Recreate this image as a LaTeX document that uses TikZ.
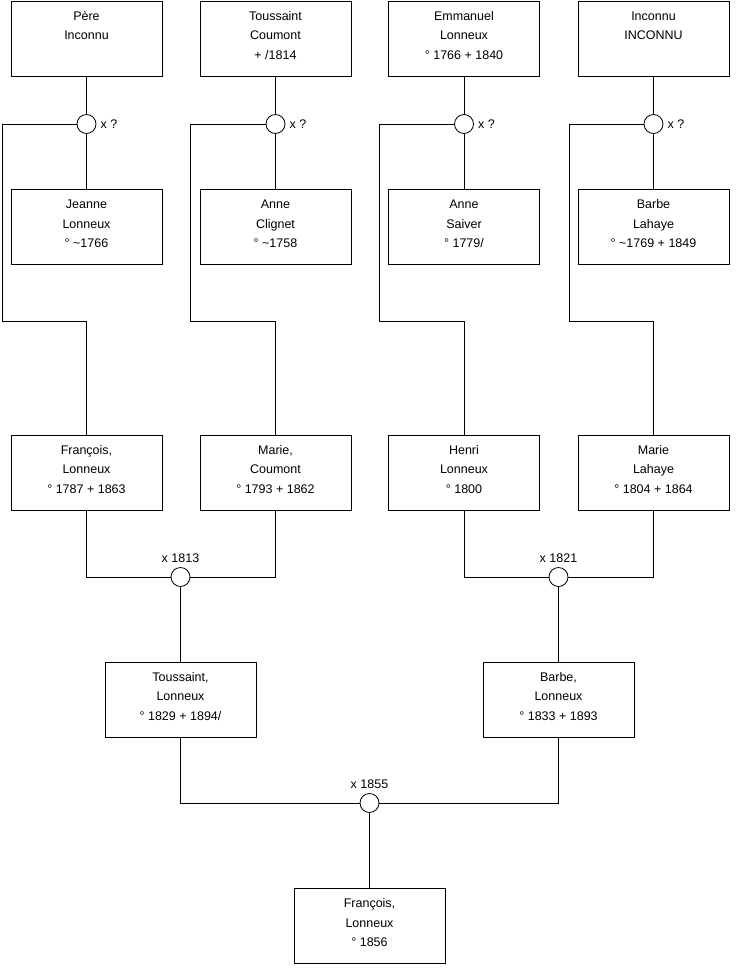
\documentclass[tikz,border=0pt]{standalone}
\usepackage{fontspec}
\setmainfont{Liberation Sans}
\newcommand\ls{\rule[-6.4pt]{0pt}{15.4pt}}
\tikzset{
  person/.style={draw=black, line width=0.8pt, minimum width=151pt, minimum height=75pt, inner sep=0pt, align=center,
    font=\fontsize{12.5}{19.5}\selectfont, fill=white},
  union/.style={draw=black, line width=0.8pt, circle, minimum size=19pt, inner sep=0pt, fill=white},
  wedlab/.style={font=\fontsize{12.5}{14}\selectfont, inner sep=0pt},
  link/.style={draw=black, line width=0.8pt}
}
\begin{document}
\begin{tikzpicture}[x=1pt,y=-1pt]
\useasboundingbox (0,0) rectangle (740,975);
% top row
\node[person] (a1) at (86.5,38.5) {\ls Père\\\ls Inconnu\\\ls};
\node[person] (a2) at (275.5,38.5) {\ls Toussaint\\\ls Coumont\\\ls + /1814};
\node[person] (a3) at (464,38.5) {\ls Emmanuel\\\ls Lonneux\\\ls ° 1766 + 1840};
\node[person] (a4) at (653.5,38.5) {\ls Inconnu\\\ls INCONNU\\\ls};
% circles
\node[union] (c1) at (86.5,124) {};
\node[union] (c2) at (275.5,124) {};
\node[union] (c3) at (464,124) {};
\node[union] (c4) at (653.5,124) {};
\foreach \i in {1,2,3,4}{\node[wedlab, anchor=west] (q\i) at ([xshift=4pt]c\i.east) {x ?};}
% second row
\node[person] (b1) at (86.5,227) {\ls Jeanne\\\ls Lonneux\\\ls ° \textasciitilde 1766};
\node[person] (b2) at (275.5,227) {\ls Anne\\\ls Clignet\\\ls ° \textasciitilde 1758};
\node[person] (b3) at (464,227) {\ls Anne\\\ls Saiver\\\ls ° 1779/};
\node[person] (b4) at (653.5,227) {\ls Barbe\\\ls Lahaye\\\ls ° \textasciitilde 1769 + 1849};
% third row
\node[person] (d1) at (86.5,472.5) {\ls François,\\\ls Lonneux\\\ls ° 1787 + 1863};
\node[person] (d2) at (275.5,472.5) {\ls Marie,\\\ls Coumont\\\ls ° 1793 + 1862};
\node[person] (d3) at (464,472.5) {\ls Henri\\\ls Lonneux\\\ls ° 1800};
\node[person] (d4) at (653.5,472.5) {\ls Marie\\\ls Lahaye\\\ls ° 1804 + 1864};
% marriages
\node[union] (m1) at (180.5,577) {};
\node[union] (m2) at (558.5,577) {};
\node[wedlab, anchor=base] (l1) at ([yshift=5pt]m1.north) {x 1813};
\node[wedlab, anchor=base] (l2) at ([yshift=5pt]m2.north) {x 1821};
\node[person] (e1) at (180.5,699.5) {\ls Toussaint,\\\ls Lonneux\\\ls ° 1829 + 1894/};
\node[person] (e2) at (558.5,699.5) {\ls Barbe,\\\ls Lonneux\\\ls ° 1833 + 1893};
\node[union] (m3) at (369.5,803) {};
\node[wedlab, anchor=base] (l3) at ([yshift=5pt]m3.north) {x 1855};
\node[person] (f) at (369.5,926) {\ls François,\\\ls Lonneux\\\ls ° 1856};
% bus corners
\coordinate (k1) at (2,321);
\coordinate (k2) at (190,321);
\coordinate (k3) at (379,321);
\coordinate (k4) at (569,321);
% connectors
\foreach \i in {1,2,3,4}{
  \draw[link] (a\i.south) -- (c\i.north);
  \draw[link] (c\i.south) -- (b\i.north);
  \draw[link] (c\i.west) -| (k\i) -| (d\i.north);
}
\draw[link] (d1.south) |- (m1.west);
\draw[link] (d2.south) |- (m1.east);
\draw[link] (m1.south) -- (e1.north);
\draw[link] (d3.south) |- (m2.west);
\draw[link] (d4.south) |- (m2.east);
\draw[link] (m2.south) -- (e2.north);
\draw[link] (e1.south) |- (m3.west);
\draw[link] (e2.south) |- (m3.east);
\draw[link] (m3.south) -- (f.north);
\end{tikzpicture}
\end{document}
